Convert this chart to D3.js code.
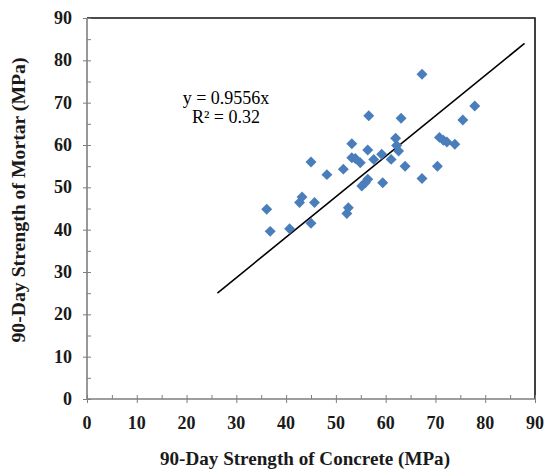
<!DOCTYPE html>
<html>
<head>
<meta charset="utf-8">
<script src="https://cdn.jsdelivr.net/npm/d3@7"></script>
<style>
  body { margin: 0; background: #fff; }
  text { font-family: "Liberation Serif", "Times New Roman", serif; }
</style>
</head>
<body>
<div id="chart"></div>
<script>
// concrete vs mortar strength (MPa)
const concrete = [36.1, 36.8, 40.7, 42.7, 43.2, 45.7, 45.0, 45.0, 48.2, 51.5,
  52.5, 52.2, 53.2, 53.2, 53.9, 54.9, 55.2, 55.9, 56.4, 56.4,
  56.6, 57.6, 59.2, 59.4, 61.1, 62.0, 62.2, 62.6, 63.1, 63.9,
  67.3, 67.3, 70.4, 70.8, 71.6, 72.3, 73.9, 75.5, 77.9];
const mortar = [44.8, 39.6, 40.2, 46.4, 47.7, 46.4, 41.5, 56.0, 53.0, 54.3,
  45.2, 43.8, 60.3, 57.0, 56.8, 55.8, 50.3, 51.1, 51.9, 58.8,
  66.9, 56.6, 57.8, 51.1, 56.6, 61.6, 59.9, 58.6, 66.3, 55.0,
  76.7, 52.1, 55.0, 61.8, 61.1, 60.7, 60.2, 65.9, 69.2];
const slope = 0.9556;
const trendX = [26.2, 87.9];
const tickValues = [0, 10, 20, 30, 40, 50, 60, 70, 80, 90];
const minorValues = [5, 15, 25, 35, 45, 55, 65, 75, 85];
const xTitle = "90-Day Strength of Concrete (MPa)";
const yTitle = "90-Day Strength of Mortar (MPa)";
const eqLines = ["y = 0.9556x", "R\u00b2 = 0.32"];

const width = 548, height = 472;
const margin = { top: 18, right: 13, bottom: 73, left: 87 };

const svg = d3.select("#chart").append("svg")
  .attr("width", width).attr("height", height);

const x = d3.scaleLinear().domain([0, 90]).range([margin.left, width - margin.right]);
const y = d3.scaleLinear().domain([0, 90]).range([height - margin.bottom, margin.top]);

const axisGray = "#7f7f7f";

// top and right border
svg.append("path")
  .attr("d", `M${x(0)},${y(90)}H${x(90)}V${y(0)}`)
  .attr("fill", "none").attr("stroke", "#111").attr("stroke-width", 1.6);

// major ticks cross the axis, minor ones sit inside
function styleAxis(g) {
  g.select(".domain").remove();
  g.selectAll(".tick line").attr("stroke", axisGray).attr("stroke-width", 1);
}
svg.append("g").attr("transform", `translate(0,${y(0) - 4})`)
  .call(d3.axisBottom(x).tickValues(tickValues).tickSize(8).tickFormat("")).call(styleAxis);
svg.append("g").attr("transform", `translate(0,${y(0)})`)
  .call(d3.axisTop(x).tickValues(minorValues).tickSize(4).tickFormat("")).call(styleAxis);
svg.append("g").attr("transform", `translate(${x(0) + 4},0)`)
  .call(d3.axisLeft(y).tickValues(tickValues).tickSize(8).tickFormat("")).call(styleAxis);
svg.append("g").attr("transform", `translate(${x(0)},0)`)
  .call(d3.axisRight(y).tickValues(minorValues).tickSize(4).tickFormat("")).call(styleAxis);

// left and bottom axis lines
svg.append("path")
  .attr("d", `M${x(0)},${y(90)}V${y(0)}H${x(90)}`)
  .attr("fill", "none").attr("stroke", axisGray).attr("stroke-width", 1.6);

// tick labels
svg.append("g").selectAll("text")
  .data(tickValues).join("text")
  .attr("x", d => x(d)).attr("y", y(0) + 30)
  .attr("text-anchor", "middle")
  .attr("font-size", 18).attr("font-weight", "bold").attr("fill", "#1a1a1a")
  .text(d => d);

svg.append("g").selectAll("text")
  .data(tickValues).join("text")
  .attr("x", x(0) - 15).attr("y", d => y(d) + 6)
  .attr("text-anchor", "end")
  .attr("font-size", 18).attr("font-weight", "bold").attr("fill", "#1a1a1a")
  .text(d => d);

// trend line
svg.append("line")
  .attr("x1", x(trendX[0])).attr("y1", y(slope * trendX[0]))
  .attr("x2", x(trendX[1])).attr("y2", y(slope * trendX[1]))
  .attr("stroke", "#000").attr("stroke-width", 1.6);

// points (diamonds)
const pts = concrete.map((c, i) => ({ c, m: mortar[i] }));
const diamond = d3.symbol().type(d3.symbolSquare).size(60);
svg.append("g").selectAll("path")
  .data(pts).join("path")
  .attr("d", diamond)
  .attr("transform", d => `translate(${x(d.c)},${y(d.m)}) rotate(45)`)
  .attr("fill", "#4a7ebb");

// equation
svg.append("g").selectAll("text")
  .data(eqLines).join("text")
  .attr("x", 226).attr("y", (d, i) => 104 + i * 19)
  .attr("text-anchor", "middle")
  .attr("font-size", 18).attr("fill", "#000")
  .text(d => d);

// axis titles
svg.append("text")
  .attr("x", 305).attr("y", 465)
  .attr("text-anchor", "middle")
  .attr("font-size", 19).attr("font-weight", "bold").attr("fill", "#1a1a1a")
  .attr("textLength", 290).attr("lengthAdjust", "spacingAndGlyphs")
  .text(xTitle);

svg.append("text")
  .attr("transform", "translate(25,200) rotate(-90)")
  .attr("text-anchor", "middle")
  .attr("font-size", 19).attr("font-weight", "bold").attr("fill", "#1a1a1a")
  .attr("textLength", 285).attr("lengthAdjust", "spacingAndGlyphs")
  .text(yTitle);
</script>
</body>
</html>
